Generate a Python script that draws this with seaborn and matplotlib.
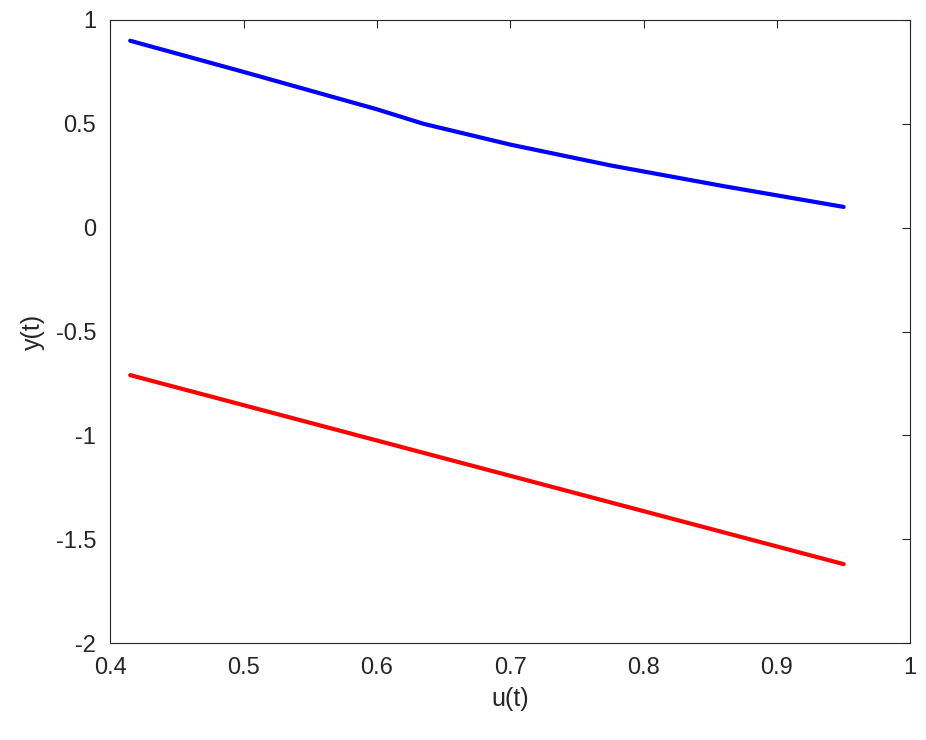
import numpy as np
import pandas as pd
import matplotlib
matplotlib.use("Agg")
import matplotlib.pyplot as plt
import seaborn as sns

# values
u_blue = [0.415, 0.50, 0.60, 0.635, 0.70, 0.775, 0.86, 0.95]
y_blue = [0.90, 0.75, 0.57, 0.50, 0.40, 0.30, 0.20, 0.10]
u_red = [0.415, 0.95]
y_red = [-0.71, -1.62]

sns.set_style("white")
plt.rcParams['font.family'] = ['Liberation Sans', 'DejaVu Sans']

fig = plt.figure(figsize=(9.26, 7.4), dpi=100)
ax = fig.add_axes([0.119, 0.131, 0.864, 0.842])

df_b = pd.DataFrame({"u": u_blue, "y": y_blue})
df_r = pd.DataFrame({"u": u_red, "y": y_red})
sns.lineplot(data=df_b, x="u", y="y", color="#0000ff", linewidth=3, sort=False, ax=ax)
sns.lineplot(data=df_r, x="u", y="y", color="#ff0000", linewidth=3, sort=False, ax=ax)

ax.set_xlim(0.4, 1)
ax.set_ylim(-2, 1)
ax.set_xticks(np.arange(0.4, 1.01, 0.1))
ax.set_xticklabels(["0.4", "0.5", "0.6", "0.7", "0.8", "0.9", "1"])
ax.set_yticks(np.arange(-2, 1.01, 0.5))
ax.set_yticklabels(["-2", "-1.5", "-1", "-0.5", "0", "0.5", "1"])
ax.tick_params(direction="in", top=True, right=True, length=6, labelsize=17,
               colors="#262626", pad=10)
ax.set_xlabel("u(t)", fontsize=18, color="#262626", labelpad=6)
ax.set_ylabel("y(t)", fontsize=18, color="#262626", labelpad=8)
for s in ax.spines.values():
    s.set_color("#262626")
    s.set_linewidth(0.8)

fig.savefig("out.png", dpi=100)
